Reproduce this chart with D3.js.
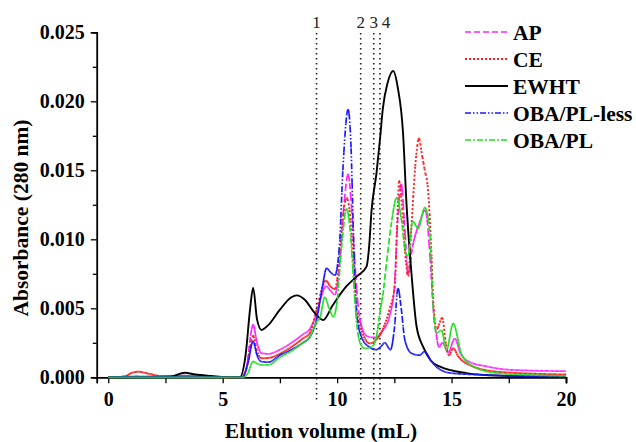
<!DOCTYPE html>
<html>
<head>
<meta charset="utf-8">
<script src="https://cdn.jsdelivr.net/npm/d3@7"></script>
<style>
  html, body { margin: 0; padding: 0; background: #fff; }
  svg { display: block; }
  text { font-family: "Liberation Serif", "Times New Roman", serif; }
</style>
</head>
<body>
<svg id="chart" width="636" height="442"></svg>
<script>
// Size-exclusion chromatograms: elution volume (mL) vs absorbance at 280 nm

const seriesNames = ["AP", "CE", "EWHT", "OBA/PL-less", "OBA/PL"];

// [elution volume, absorbance] pairs per sample
const apData = [
  [0,0],[1,0.00003],[2,0.00005],[3,0.0001],[3.4,0.00012],[4,0.00005],[5.5,0.00003],[5.85,0],
  [6.05,0.0008],[6.2,0.0028],[6.33,0.0038],[6.5,0.0025],[6.7,0.00174],[7.0,0.0017],
  [7.5,0.002],[8.0,0.0025],[8.5,0.0031],[8.8,0.0035],[9.1,0.0046],[9.3,0.0058],
  [9.51,0.0066],[9.7,0.0063],[9.9,0.006],[10.1,0.008],[10.3,0.0125],[10.48,0.0147],
  [10.6,0.013],[10.75,0.009],[10.9,0.0055],[11.1,0.0035],[11.3,0.003],[11.5,0.0029],
  [11.7,0.0029],[12.0,0.0034],[12.3,0.0045],[12.5,0.0065],[12.65,0.0115],[12.8,0.014],
  [12.95,0.011],[13.1,0.0075],[13.3,0.0095],[13.6,0.0112],[13.85,0.0121],[14.05,0.009],
  [14.2,0.005],[14.34,0.003],[14.45,0.0022],[14.6,0.0025],[14.85,0.0018],[15.14,0.0028],
  [15.4,0.0017],[15.8,0.0011],[16.5,0.0008],[17.5,0.00055],[20,0.00044]
];
const ceData = [
  [0,0],[0.7,0.00005],[1.0,0.0003],[1.3,0.0004],[1.8,0.00025],[2.4,0.00006],[3.3,0.0001],
  [4.0,0.00005],[5.8,0],[6.05,0.0007],[6.2,0.0022],[6.33,0.003],[6.5,0.0019],[6.7,0.00138],
  [7.0,0.0014],[7.5,0.0017],[8.0,0.0022],[8.5,0.0028],[8.8,0.0032],[9.1,0.0049],
  [9.3,0.0062],[9.51,0.007],[9.7,0.0066],[9.9,0.0064],[10.1,0.0085],[10.25,0.0115],
  [10.41,0.013],[10.55,0.012],[10.7,0.0085],[10.85,0.005],[11.07,0.0034],[11.25,0.0027],
  [11.43,0.00246],[11.7,0.0027],[12.0,0.0035],[12.3,0.005],[12.52,0.0066],[12.62,0.011],
  [12.71,0.0142],[12.85,0.012],[13.0,0.0085],[13.1,0.0073],[13.25,0.011],[13.45,0.016],
  [13.58,0.0173],[13.7,0.0162],[13.83,0.015],[13.97,0.0136],[14.12,0.009],[14.2,0.0056],
  [14.35,0.0035],[14.59,0.0043],[14.75,0.0025],[14.88,0.0016],[15.07,0.0021],
  [15.3,0.0015],[15.65,0.001],[17,0.0004],[20,0.0002]
];
const ewhtData = [
  [0,0],[2.7,0.00005],[3.35,0.00033],[3.8,0.0002],[4.5,0.0001],[5.5,0],[5.75,0],
  [6.0,0.0016],[6.2,0.005],[6.33,0.0065],[6.5,0.0042],[6.7,0.00343],[7.0,0.0038],
  [7.5,0.0049],[8.0,0.0058],[8.23,0.00594],[8.6,0.0056],[9.0,0.0047],[9.39,0.00415],
  [9.8,0.0052],[10.41,0.0066],[10.85,0.0073],[11.28,0.008],[11.4,0.0095],[11.5,0.012],
  [11.72,0.0148],[11.87,0.0172],[12.0,0.0195],[12.2,0.0213],[12.45,0.0222],[12.65,0.021],
  [12.88,0.0177],[13.03,0.0126],[13.25,0.0075],[13.47,0.0037],[13.76,0.0022],
  [14.1,0.0012],[14.5,0.00077],[15.65,0.0003],[17,0.00012],[20,0.00005]
];
const obaLessData = [
  [0,0],[1.2,0.00006],[3,0.00004],[5.87,0],[6.1,0.001],[6.33,0.0026],[6.5,0.0016],
  [6.7,0.00113],[7.0,0.0011],[7.5,0.0016],[8.0,0.002],[8.5,0.0025],[8.8,0.0029],
  [9.13,0.0044],[9.35,0.0065],[9.54,0.0079],[9.72,0.0076],[9.9,0.0074],[10.1,0.0095],
  [10.25,0.015],[10.48,0.0194],[10.6,0.017],[10.72,0.01],[10.85,0.0047],[11.07,0.0029],
  [11.4,0.0022],[11.7,0.002],[11.9,0.0022],[12.08,0.0025],[12.33,0.002],[12.5,0.0035],
  [12.66,0.00645],[12.8,0.005],[12.96,0.0027],[13.25,0.00174],[13.6,0.0016],
  [13.83,0.00186],[14.1,0.0012],[14.48,0.00058],[15,0.0003],[16,0.0002],[20,0.00005]
];
const obaData = [
  [0,0],[5.9,0],[6.1,0.0003],[6.33,0.00115],[6.5,0.001],[6.7,0.00089],[7.0,0.0009],
  [7.5,0.00145],[8.0,0.0019],[8.5,0.0025],[8.8,0.0029],[9.1,0.004],[9.25,0.0043],
  [9.46,0.0058],[9.65,0.005],[9.83,0.0044],[10.0,0.0055],[10.2,0.0095],[10.41,0.0122],
  [10.55,0.011],[10.7,0.0075],[10.85,0.004],[11.0,0.0025],[11.2,0.0021],[11.5,0.0022],
  [11.7,0.0028],[11.87,0.0047],[12.0,0.006],[12.16,0.0083],[12.4,0.0115],[12.6,0.013],
  [12.8,0.0115],[13.0,0.009],[13.1,0.0088],[13.3,0.0113],[13.54,0.0108],[13.83,0.0123],
  [14.05,0.0105],[14.2,0.0051],[14.34,0.0032],[14.56,0.0034],[14.78,0.002],[15.07,0.0039],
  [15.43,0.0017],[15.93,0.0008],[17,0.0003],[20,0.0001]
];

// fraction cut positions (mL) and their labels
const fractionVolumes = [9.1, 11.03, 11.6, 11.87];
const fractionLabels = ["1", "2", "3", "4"];

const xTicks = [0, 5, 10, 15, 20];
const yTicks = [0, 0.005, 0.01, 0.015, 0.02, 0.025];

const series = [
  { name: seriesNames[0], data: apData,      color: "#ff22ff", dash: "6,3",             width: 1.7 },
  { name: seriesNames[1], data: ceData,      color: "#ff2020", dash: "2,2",             width: 1.9 },
  { name: seriesNames[2], data: ewhtData,    color: "#000000", dash: null,              width: 1.9 },
  { name: seriesNames[3], data: obaLessData, color: "#1a1aff", dash: "6,2,1.5,2,1.5,2", width: 1.7 },
  { name: seriesNames[4], data: obaData,     color: "#22e022", dash: "6,2,2,2",         width: 1.7 }
];

const svg = d3.select("#chart");
const x = d3.scaleLinear().domain([-0.5, 20]).range([96.8, 566]);
const y = d3.scaleLinear().domain([0, 0.025]).range([377.3, 32.3]);

// axes
const xAxis = d3.axisBottom(x).tickValues(xTicks).tickFormat(d3.format("d")).tickSize(6).tickPadding(9);
const xMinor = d3.axisBottom(x).tickValues(d3.range(2.5, 20, 5)).tickFormat("").tickSize(6);
const yAxis = d3.axisLeft(y).tickValues(yTicks).tickFormat(d3.format(".3f")).tickSize(6).tickPadding(6);
const yMinor = d3.axisLeft(y).tickValues(d3.range(0.0025, 0.025, 0.005)).tickFormat("").tickSize(4);

function styleAxis(g) {
  g.select(".domain").attr("stroke", "#000").attr("stroke-width", 1.5);
  g.selectAll(".tick line").attr("stroke", "#000").attr("stroke-width", 1.3);
  g.selectAll(".tick text")
    .attr("fill", "#000")
    .style("font-family", "'Liberation Serif', serif")
    .style("font-weight", "bold")
    .style("font-size", "20px");
}

svg.append("g").attr("transform", `translate(0,${y(0)})`).call(xMinor).call(styleAxis);
svg.append("g").attr("transform", `translate(0,${y(0)})`).call(xAxis).call(styleAxis);
svg.append("g").attr("transform", `translate(${x(-0.5)},0)`).call(yMinor).call(styleAxis);
svg.append("g").attr("transform", `translate(${x(-0.5)},0)`).call(yAxis).call(styleAxis);

// axis titles
svg.append("text")
  .attr("x", 321).attr("y", 438)
  .attr("text-anchor", "middle")
  .style("font-weight", "bold").style("font-size", "21.5px")
  .text("Elution volume (mL)");
svg.append("text")
  .attr("transform", `translate(28,218) rotate(-90)`)
  .attr("text-anchor", "middle")
  .style("font-weight", "bold").style("font-size", "21.5px")
  .text("Absorbance (280 nm)");

// fraction cut markers
const marks = svg.append("g");
marks.selectAll("line").data(fractionVolumes).join("line")
  .attr("x1", d => x(d)).attr("x2", d => x(d))
  .attr("y1", 33).attr("y2", 403)
  .attr("stroke", "#222").attr("stroke-width", 1.6)
  .attr("stroke-dasharray", "1.6,3.4");
const labelShift = [0, 0, 0, 6];
marks.selectAll("text").data(fractionLabels).join("text")
  .attr("x", (d, i) => x(fractionVolumes[i]) + labelShift[i])
  .attr("y", 28)
  .attr("text-anchor", "middle")
  .style("font-size", "17px")
  .attr("fill", "#222")
  .text(d => d);

// chromatogram traces
const line = d3.line()
  .x(d => x(d[0]))
  .y(d => y(d[1]))
  .curve(d3.curveMonotoneX);

// The detector trace is stroked as a chain of short pieces, each advancing
// about one pixel along the volume axis; the dash pattern restarts on every
// piece, so flat stretches read as solid and steep flanks show the dashes.
function dashedPieces(pathString, stepX) {
  const tmp = svg.append("path").attr("d", pathString).attr("fill", "none");
  const node = tmp.node();
  const total = node.getTotalLength();
  const pieces = [];
  let current = [];
  let startX = null;
  for (let s = 0; s <= total + 0.25; s += 0.25) {
    const p = node.getPointAtLength(Math.min(s, total));
    if (startX === null) { startX = p.x; current.push([p.x, p.y]); continue; }
    current.push([p.x, p.y]);
    if (p.x - startX >= stepX) {
      pieces.push(current);
      current = [[p.x, p.y]];
      startX = p.x;
    }
  }
  if (current.length > 1) pieces.push(current);
  tmp.remove();
  return pieces;
}

const traces = svg.append("g");
series.forEach(s => {
  const d = line(s.data);
  if (!s.dash) {
    traces.append("path")
      .attr("d", d)
      .attr("fill", "none")
      .attr("stroke", s.color)
      .attr("stroke-width", s.width)
      .attr("stroke-linejoin", "round");
    return;
  }
  const pieces = dashedPieces(d, 1.0);
  traces.append("g").selectAll("path").data(pieces).join("path")
    .attr("d", pts => d3.line()(pts))
    .attr("fill", "none")
    .attr("stroke", s.color)
    .attr("stroke-width", s.width)
    .attr("stroke-dasharray", s.dash);
});

// legend
const legend = svg.append("g");
const rowY = d3.scaleLinear().domain([0, 4]).range([32, 140]);
const rows = legend.selectAll("g").data(series).join("g")
  .attr("transform", (d, i) => `translate(0,${rowY(i)})`);
rows.append("line")
  .attr("x1", 465).attr("x2", 508)
  .attr("stroke", d => d.color)
  .attr("stroke-width", d => d.width)
  .attr("stroke-dasharray", d => d.dash);
rows.append("text")
  .attr("x", 513).attr("y", 7.5)
  .style("font-weight", "bold").style("font-size", "21.5px")
  .text(d => d.name);
</script>
</body>
</html>
